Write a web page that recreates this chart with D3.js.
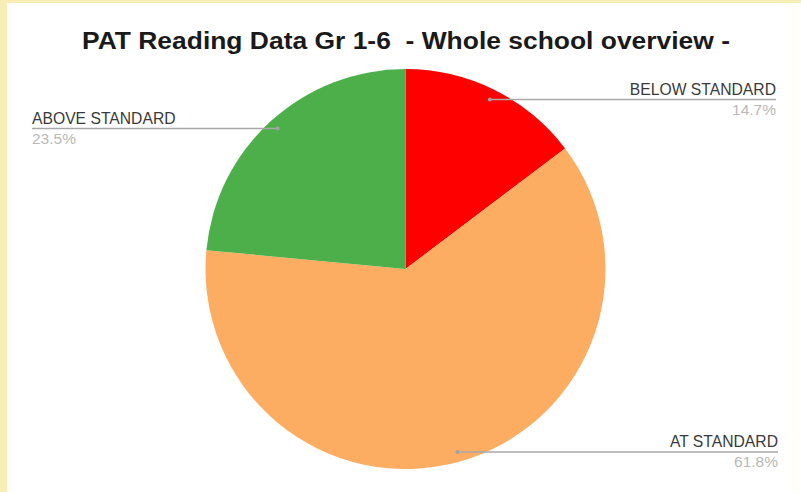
<!DOCTYPE html>
<html><head><meta charset="utf-8">
<script src="https://cdn.jsdelivr.net/npm/d3@7"></script>
<style>
html,body{margin:0;padding:0;background:#fff;}
svg{display:block;font-family:"Liberation Sans",Arial,sans-serif;}
</style></head>
<body>
<svg id="chart" width="801" height="492"></svg>
<script>
const categories = ["BELOW STANDARD", "AT STANDARD", "ABOVE STANDARD"];
const values = [14.7, 61.8, 23.5];
const colors = ["#ff0000", "#fdad62", "#4caf4a"];
const title = "PAT Reading Data Gr 1-6  - Whole school overview -";

const svg = d3.select("#chart");
const W = 801, H = 492;
// background frame
svg.append("rect").attr("width", W).attr("height", H).attr("fill", "#f9edb6");
svg.append("rect").attr("x", 7).attr("y", 3).attr("width", W - 7).attr("height", H - 3).attr("fill", "#fffef9");
svg.append("rect").attr("x", 12).attr("y", 6).attr("width", W - 22).attr("height", H - 6).attr("fill", "#ffffff");

svg.append("text").attr("x", 82).attr("y", 48.5).attr("text-anchor", "start")
  .attr("font-size", 23).attr("font-weight", "bold").attr("fill", "#1a1a1a")
  .attr("textLength", 648).attr("lengthAdjust", "spacingAndGlyphs")
  .attr("xml:space", "preserve").style("white-space", "pre").text(title);

const cx = 405.5, cy = 269, r = 200;
const pie = d3.pie().sort(null).value(d => d.v);
const data = categories.map((c, i) => ({c, v: values[i], col: colors[i]}));
const arcs = pie(data);
const arc = d3.arc().innerRadius(0).outerRadius(r);
const g = svg.append("g").attr("transform", `translate(${cx},${cy})`);
g.selectAll("path").data(arcs).join("path").attr("d", arc).attr("fill", d => d.data.col);

const labelPos = {
  "BELOW STANDARD": {y: 99.5, x: 776, anchor: "end"},
  "AT STANDARD": {y: 452, x: 778, anchor: "end"},
  "ABOVE STANDARD": {y: 128.5, x: 32, anchor: "start"}
};
arcs.forEach(a => {
  const p = labelPos[a.data.c];
  const mid = (a.startAngle + a.endAngle) / 2;
  const dy = p.y - cy;
  const dx = -dy * Math.tan(mid);
  const dotX = cx + dx;
  svg.append("line").attr("x1", dotX).attr("y1", p.y).attr("x2", p.x).attr("y2", p.y)
    .attr("stroke", "#a8a8a8").attr("stroke-width", 1.6);
  svg.append("circle").attr("cx", dotX).attr("cy", p.y).attr("r", 2).attr("fill", "#a0a0a0");
  svg.append("text").attr("x", p.x).attr("y", p.y - 5).attr("text-anchor", p.anchor)
    .attr("font-size", 15.7).attr("fill", "#3a3a3a").text(a.data.c);
  svg.append("text").attr("x", p.x).attr("y", p.y + 15).attr("text-anchor", p.anchor)
    .attr("font-size", 15.5).attr("fill", "#b8b8b8").text(a.data.v.toFixed(1) + "%");
});
</script>
</body></html>
